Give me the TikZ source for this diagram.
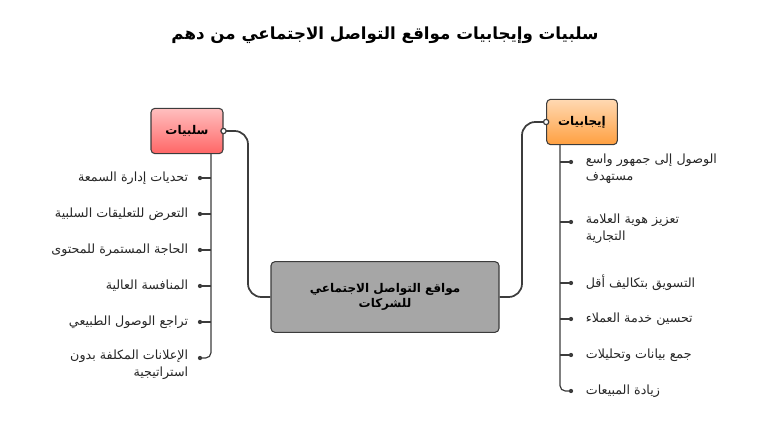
\documentclass[tikz,border=0pt]{standalone}
\usepackage{fontspec}
\TeXXeTstate=1
\newfontfamily\arabicfont[Script=Arabic]{DejaVu Sans}
\usetikzlibrary{positioning}
\definecolor{boxgrey}{HTML}{A6A6A6}
\definecolor{linegrey}{HTML}{3C3C3C}
\begin{document}
\begin{tikzpicture}[x=0.75pt,y=-0.75pt,
    thick,
    main box/.style={draw=linegrey,rounded corners=3pt,minimum height=34pt,font=\arabicfont\bfseries\small},
    item/.style={font=\arabicfont\fontsize{9.5}{13}\selectfont,inner sep=1pt,text=black!85},
    link/.style={draw=linegrey,line width=1.3pt,rounded corners=10pt},
    dot/.style={circle,draw=linegrey,fill=white,inner sep=1.4pt,line width=0.9pt}
  ]
  \useasboundingbox (0,0) rectangle (782,423);
  \node[font=\arabicfont\bfseries\fontsize{12.5}{15}\selectfont] (title) at (385,35) {\beginR سلبيات وإيجابيات مواقع التواصل الاجتماعي من دهم\endR};

  \node[main box,fill=boxgrey,minimum width=171pt,minimum height=53pt,align=center] (center) at (385,297)
    {\beginR مواقع التواصل الاجتماعي\endR\\ \beginR للشركات\endR};
  \node[main box,top color=red!25,bottom color=red!60,minimum width=54pt] (neg) at (187,131) {\beginR سلبيات\endR};
  \node[main box,top color=orange!30,bottom color=orange!75,minimum width=53pt] (pos) at (582,122) {\beginR إيجابيات\endR};

  \path[link] (center.west) -| (248,131) -- (neg.east);
  \path[link] (center.east) -| (522,122) -- (pos.west);
  \node[dot] at (neg.east) {};
  \node[dot] at (pos.west) {};

  % left list
  \coordinate (nl) at (211,154);
  \draw[draw=linegrey,line width=0.9pt,rounded corners=4pt] (nl) -- (211,358) -- (200,358);
  \foreach \y/\t [count=\i] in {178/تحديات إدارة السمعة,214/التعرض للتعليقات السلبية,250/الحاجة المستمرة للمحتوى,286/المنافسة العالية,322/تراجع الوصول الطبيعي}{
    \draw[draw=linegrey,line width=0.9pt] (211,\y) -- (200,\y);
    \fill[linegrey] (200,\y) circle (1.6pt);
    \node[item,anchor=east] (n\i) at (190,\y) {\beginR\t\endR};
  }
  \fill[linegrey] (200,358) circle (1.6pt);
  \node[item,anchor=north east,align=right] (n6) at (190,348) {\beginR الإعلانات المكلفة بدون\endR\\ \beginR استراتيجية\endR};

  % right list
  \coordinate (pl) at (560,145);
  \draw[draw=linegrey,line width=0.9pt,rounded corners=4pt] (pl) -- (560,391) -- (571,391);
  \foreach \y/\t [count=\i from 3] in {283/التسويق بتكاليف أقل,319/تحسين خدمة العملاء,355/جمع بيانات وتحليلات}{
    \draw[draw=linegrey,line width=0.9pt] (560,\y) -- (571,\y);
    \fill[linegrey] (571,\y) circle (1.6pt);
    \node[item,anchor=west] (p\i) at (584,\y) {\beginR\t\endR};
  }
  \foreach \y in {162,222}{
    \draw[draw=linegrey,line width=0.9pt] (560,\y) -- (571,\y);
    \fill[linegrey] (571,\y) circle (1.6pt);
  }
  \fill[linegrey] (571,391) circle (1.6pt);
  \node[item,anchor=north west,align=left] (p1) at (584,152) {\beginR الوصول إلى جمهور واسع\endR\\ \beginR مستهدف\endR};
  \node[item,anchor=north west,align=left] (p2) at (584,212) {\beginR تعزيز هوية العلامة\endR\\ \beginR التجارية\endR};
  \node[item,anchor=west] (p6) at (584,391) {\beginR زيادة المبيعات\endR};
\end{tikzpicture}
\end{document}
